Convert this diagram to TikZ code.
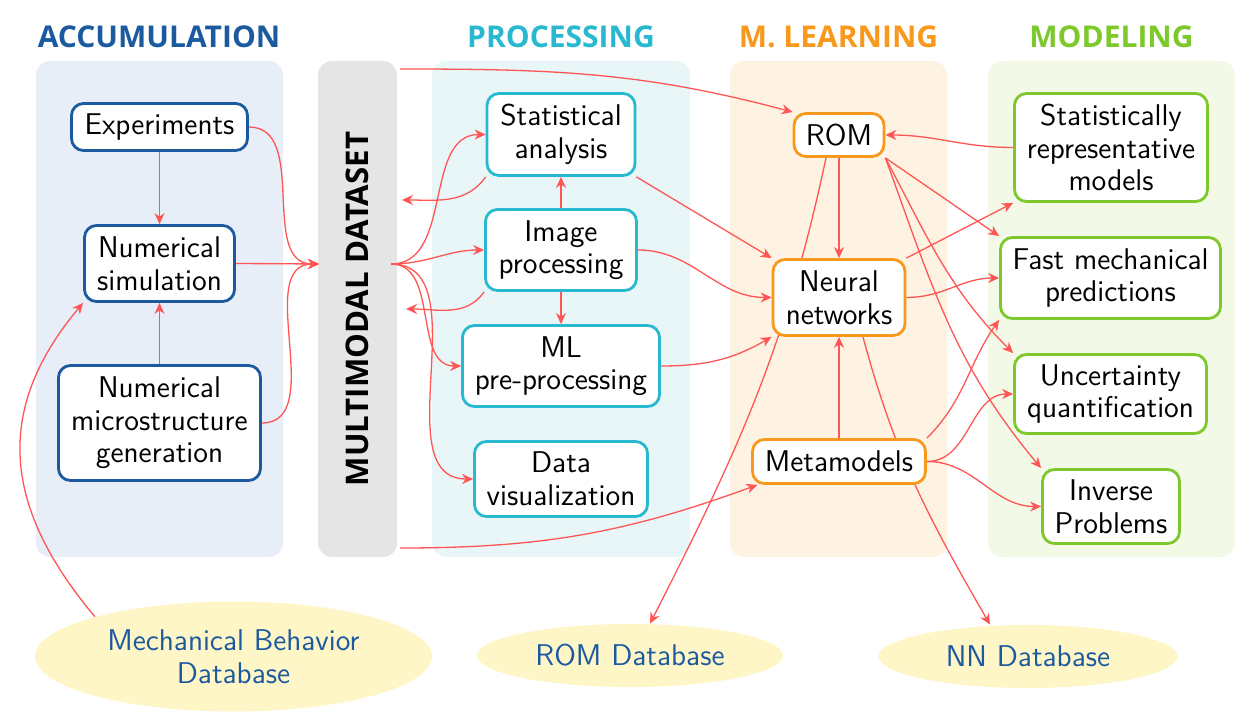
\documentclass[tikz,border=0pt]{standalone}
\usepackage{fontspec}
\newfontfamily\titlefont{Open Sans}
\usetikzlibrary{arrows.meta,shapes.geometric}
\definecolor{cblue}{RGB}{28,90,160}
\definecolor{ccyan}{RGB}{40,185,208}
\definecolor{corange}{RGB}{248,152,29}
\definecolor{cgreen}{RGB}{125,201,44}
\definecolor{bgblue}{RGB}{231,238,247}
\definecolor{bggray}{RGB}{229,229,229}
\definecolor{bgcyan}{RGB}{233,246,248}
\definecolor{bgorange}{RGB}{254,243,226}
\definecolor{bggreen}{RGB}{242,249,230}
\definecolor{cyell}{RGB}{255,246,200}
\definecolor{cred}{RGB}{255,85,85}
\pgfdeclarelayer{panels}
\pgfdeclarelayer{edges}
\pgfsetlayers{panels,edges,main}
\newcommand{\bodyfont}{\sffamily\fontsize{15}{16.3}\selectfont}
\begin{document}
\begin{tikzpicture}[x=0.5pt,y=0.5pt,
  box/.style={draw, line width=1.4pt, rounded corners=6pt, fill=white, align=center, inner sep=0pt, text=black, font=\bodyfont},
  bbox/.style={box, draw=cblue},
  cbox/.style={box, draw=ccyan},
  obox/.style={box, draw=corange},
  gbox/.style={box, draw=cgreen},
  panel/.style={rounded corners=7pt},
  db/.style={ellipse, fill=cyell, draw=none, text=cblue, inner sep=0pt, align=center, font=\bodyfont},
  ttl/.style={anchor=base, font=\titlefont\bfseries\fontsize{15}{17}\selectfont},
  arr/.style={draw=cred, line width=0.65pt, -{Stealth[length=5.5pt,width=5pt,inset=1.8pt]}}
]
\useasboundingbox (0,0) rectangle (1246,-715);

% panels
\begin{pgfonlayer}{panels}
\fill[bgblue, panel] (36,-61) rectangle (283,-557);
\fill[bgcyan, panel] (432,-61) rectangle (690,-557);
\fill[bgorange, panel] (730,-61) rectangle (947,-557);
\fill[bggreen, panel] (988,-61) rectangle (1235,-557);
\node[fill=bggray, rounded corners=7pt, rotate=90, minimum width=248pt, minimum height=39.5pt, inner sep=0pt,
  font=\titlefont\bfseries\fontsize{15.6}{17}\selectfont] (md) at (357.5,-309) {MULTIMODAL DATASET};
\end{pgfonlayer}

% titles
\node[ttl, text=cblue] (t1) at (159,-47.5) {ACCUMULATION};
\node[ttl, text=ccyan] (t2) at (561,-47.5) {PROCESSING};
\node[ttl, text=corange] (t3) at (838.5,-47.5) {M. LEARNING};
\node[ttl, text=cgreen] (t4) at (1111.5,-47.5) {MODELING};

% accumulation
\node[bbox, minimum width=88pt, minimum height=23.5pt] (exp) at (159.5,-127) {Experiments};
\node[bbox, minimum width=75pt, minimum height=38pt] (nsim) at (159.5,-263.5) {Numerical\\simulation};
\node[bbox, minimum width=101pt, minimum height=57.5pt] (nmic) at (159.5,-423) {Numerical\\microstructure\\generation};

% processing
\node[cbox, minimum width=74pt, minimum height=41pt] (stat) at (561,-134.5) {Statistical\\analysis};
\node[cbox, minimum width=75.5pt, minimum height=40.5pt] (img) at (561,-250) {Image\\processing};
\node[cbox, minimum width=98.5pt, minimum height=40.5pt] (mlp) at (561,-366) {ML\\pre-processing};
\node[cbox, minimum width=86.5pt, minimum height=37.5pt] (dvis) at (561,-479) {Data\\visualization};

% machine learning
\node[obox, minimum width=45pt, minimum height=21.5pt] (rom) at (839,-135) {ROM};
\node[obox, minimum width=66pt, minimum height=38pt] (nn) at (839,-297.5) {Neural\\networks};
\node[obox, minimum width=86.5pt, minimum height=22pt] (meta) at (839,-461.5) {Metamodels};

% modeling
\node[gbox, minimum width=96.5pt, minimum height=54pt] (srep) at (1111,-147.5) {Statistically\\representative\\models};
\node[gbox, minimum width=110pt, minimum height=40.5pt] (fast) at (1110.5,-278) {Fast mechanical\\predictions};
\node[gbox, minimum width=96pt, minimum height=39.5pt] (unc) at (1110.5,-394) {Uncertainty\\quantification};
\node[gbox, minimum width=68.5pt, minimum height=37pt] (inv) at (1111,-506.5) {Inverse\\Problems};

% databases
\node[db, minimum width=198.5pt, minimum height=55pt] (mbd) at (233.5,-656.5) {Mechanical Behavior\\Database};
\node[db, minimum width=153pt, minimum height=31.5pt] (romdb) at (630,-655.5) {ROM Database};
\node[db, minimum width=149.5pt, minimum height=31.5pt] (nndb) at (1028,-656.5) {NN Database};

% connector coordinates on the dataset bar
\coordinate (mdin) at (319,-264);
\coordinate (mdout) at (391,-264);
\coordinate (mdtop) at (400,-69);
\coordinate (mdbot) at (400,-548);
\coordinate (mdret1) at (402,-200);
\coordinate (mdret2) at (406,-309);

\begin{pgfonlayer}{edges}
% accumulation
\draw[arr] (exp.south) -- (nsim.north);
\draw[arr] (nmic.north) -- (nsim.south);
\draw[arr] (exp.east) to[out=0,in=180] (mdin);
\draw[arr] (nsim.east) -- (mdin);
\draw[arr] (nmic.east) to[out=0,in=180] (mdin);
\draw[arr] (mbd.164) to[out=130,in=230,looseness=1.15] (nsim.south west);
% processing
\draw[arr] (mdout) to[out=0,in=180] (stat.west);
\draw[arr] (mdout) to[out=0,in=180] (img.west);
\draw[arr] (mdout) to[out=0,in=180] (mlp.west);
\draw[arr] (mdout) to[out=0,in=180] (dvis.west);
\draw[arr] (stat.south west) to[out=235,in=0] (mdret1);
\draw[arr] (img.south west) to[out=235,in=0] (mdret2);
\draw[arr] (img.north) -- (stat.south);
\draw[arr] (img.south) -- (mlp.north);
\draw[arr] (mdtop) to[out=0,in=165] (rom.north west);
\draw[arr] (mdbot) to[out=0,in=200] (meta.196);
\draw[arr] (stat.south east) -- (nn.north west);
\draw[arr] (img.east) to[out=0,in=180] (nn.west);
\draw[arr] (mlp.east) to[out=0,in=210] (nn.south west);
% machine learning
\draw[arr] (rom.south) -- (nn.north);
\draw[arr] (meta.north) -- (nn.south);
\draw[arr] ([xshift=-6.5pt]rom.south) to[out=258,in=63] ([xshift=10pt]romdb.north);
\draw[arr] ([xshift=12pt]nn.south) to[out=285,in=120] ([xshift=-19pt]nndb.north);
% modeling
\draw[arr] (srep.west) to[out=180,in=0] (rom.east);
\draw[arr] (rom.south east) -- (fast.north west);
\draw[arr] (rom.south east) to[out=-62,in=135] (unc.north west);
\draw[arr] (rom.south east) to[out=-70,in=130] (inv.north west);
\draw[arr] (nn.north east) -- (srep.south west);
\draw[arr] (nn.east) to[out=0,in=180] (fast.west);
\draw[arr] (meta.north east) to[out=45,in=235] (fast.south west);
\draw[arr] (meta.east) to[out=0,in=180] (unc.west);
\draw[arr] (meta.east) to[out=0,in=180] (inv.west);
\end{pgfonlayer}
\end{tikzpicture}
\end{document}
